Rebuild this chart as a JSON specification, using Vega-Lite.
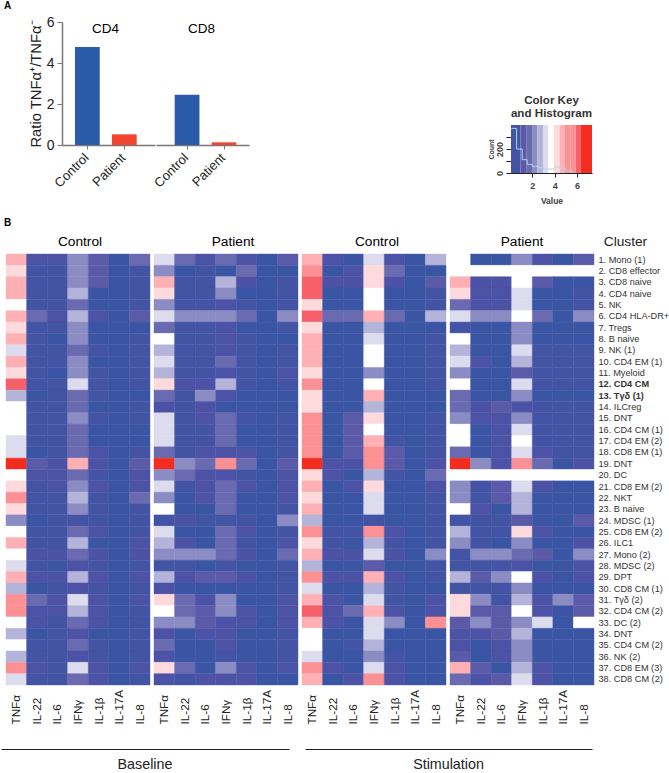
{"$schema":"https://vega.github.io/schema/vega-lite/v6.json","padding":{"left":1,"top":1,"right":0,"bottom":0},"config":{"font":"Liberation Sans","view":{"stroke":null},"title":{"font":"Liberation Sans","fontWeight":"normal"},"axis":{"labelFont":"Liberation Sans","titleFont":"Liberation Sans","titleFontWeight":"normal"}},
"datasets":{"bars":[{"cell":"CD4","group":"Control","ratio":4.78},{"cell":"CD4","group":"Patient","ratio":0.52},{"cell":"CD8","group":"Control","ratio":2.45},{"cell":"CD8","group":"Patient","ratio":0.13}],
"clusters":[{"row":1,"cluster":"1. Mono (1)"},{"row":2,"cluster":"2. CD8 effector"},{"row":3,"cluster":"3. CD8 naive"},{"row":4,"cluster":"4. CD4 naive"},{"row":5,"cluster":"5. NK"},{"row":6,"cluster":"6. CD4 HLA-DR+"},{"row":7,"cluster":"7. Tregs"},{"row":8,"cluster":"8. B naive"},{"row":9,"cluster":"9. NK (1)"},{"row":10,"cluster":"10. CD4 EM (1)"},{"row":11,"cluster":"11. Myeloid"},{"row":12,"cluster":"12. CD4 CM"},{"row":13,"cluster":"13. Tγδ (1)"},{"row":14,"cluster":"14. ILCreg"},{"row":15,"cluster":"15. DNT"},{"row":16,"cluster":"16. CD4 CM (1)"},{"row":17,"cluster":"17. CD4 EM (2)"},{"row":18,"cluster":"18. CD8 EM (1)"},{"row":19,"cluster":"19. DNT"},{"row":20,"cluster":"20. DC"},{"row":21,"cluster":"21. CD8 EM (2)"},{"row":22,"cluster":"22. NKT"},{"row":23,"cluster":"23. B naive"},{"row":24,"cluster":"24. MDSC (1)"},{"row":25,"cluster":"25. CD8 EM (2)"},{"row":26,"cluster":"26. ILC1"},{"row":27,"cluster":"27. Mono (2)"},{"row":28,"cluster":"28. MDSC (2)"},{"row":29,"cluster":"29. DPT"},{"row":30,"cluster":"30. CD8 CM (1)"},{"row":31,"cluster":"31. Tγδ (2)"},{"row":32,"cluster":"32. CD4 CM (2)"},{"row":33,"cluster":"33. DC (2)"},{"row":34,"cluster":"34. DNT"},{"row":35,"cluster":"35. CD4 CM (2)"},{"row":36,"cluster":"36. NK (2)"},{"row":37,"cluster":"37. CD8 EM (3)"},{"row":38,"cluster":"38. CD8 CM (2)"}],
"key":[{"start":0.1,"end":0.95,"value":0.5},{"start":0.95,"end":1.5,"value":1.1},{"start":1.5,"end":1.98,"value":1.4},{"start":1.98,"end":2.45,"value":1.9},{"start":2.45,"end":2.96,"value":2.4},{"start":2.96,"end":3.43,"value":2.9},{"start":3.43,"end":3.93,"value":3.65},{"start":3.93,"end":4.44,"value":4.2},{"start":4.44,"end":4.92,"value":4.7},{"start":4.92,"end":5.4,"value":5.2},{"start":5.4,"end":5.87,"value":5.2},{"start":5.87,"end":6.34,"value":5.9},{"start":6.34,"end":7.33,"value":6.9}],
"hist":[{"x":0.12,"count":372},{"x":0.6,"count":200},{"x":1.1,"count":111},{"x":1.54,"count":72},{"x":2.0,"count":55},{"x":2.55,"count":44},{"x":3.0,"count":33},{"x":3.5,"count":33},{"x":3.97,"count":50},{"x":4.5,"count":36},{"x":5.0,"count":17},{"x":5.5,"count":0}],
"baselineControl":[
{"row":1,"cytokine":"TNFα","value":4.7},{"row":1,"cytokine":"IL-22","value":0.8},{"row":1,"cytokine":"IL-6","value":0.8},{"row":1,"cytokine":"IFNγ","value":1.9},{"row":1,"cytokine":"IL-1β","value":1.1},{"row":1,"cytokine":"IL-17A","value":0.2},{"row":1,"cytokine":"IL-8","value":1.4},
{"row":2,"cytokine":"TNFα","value":4.2},{"row":2,"cytokine":"IL-22","value":0.5},{"row":2,"cytokine":"IL-6","value":0.5},{"row":2,"cytokine":"IFNγ","value":1.9},{"row":2,"cytokine":"IL-1β","value":1.1},{"row":2,"cytokine":"IL-17A","value":0.2},{"row":2,"cytokine":"IL-8","value":0.5},
{"row":3,"cytokine":"TNFα","value":4.7},{"row":3,"cytokine":"IL-22","value":0.5},{"row":3,"cytokine":"IL-6","value":0.5},{"row":3,"cytokine":"IFNγ","value":1.9},{"row":3,"cytokine":"IL-1β","value":1.1},{"row":3,"cytokine":"IL-17A","value":0.2},{"row":3,"cytokine":"IL-8","value":0.5},
{"row":4,"cytokine":"TNFα","value":4.7},{"row":4,"cytokine":"IL-22","value":0.5},{"row":4,"cytokine":"IL-6","value":0.5},{"row":4,"cytokine":"IFNγ","value":2.4},{"row":4,"cytokine":"IL-1β","value":0.2},{"row":4,"cytokine":"IL-17A","value":0.2},{"row":4,"cytokine":"IL-8","value":0.5},
{"row":5,"cytokine":"TNFα","value":3.65},{"row":5,"cytokine":"IL-22","value":0.5},{"row":5,"cytokine":"IL-6","value":0.5},{"row":5,"cytokine":"IFNγ","value":1.4},{"row":5,"cytokine":"IL-1β","value":0.2},{"row":5,"cytokine":"IL-17A","value":0.2},{"row":5,"cytokine":"IL-8","value":0.5},
{"row":6,"cytokine":"TNFα","value":4.7},{"row":6,"cytokine":"IL-22","value":1.4},{"row":6,"cytokine":"IL-6","value":0.8},{"row":6,"cytokine":"IFNγ","value":2.4},{"row":6,"cytokine":"IL-1β","value":0.8},{"row":6,"cytokine":"IL-17A","value":0.2},{"row":6,"cytokine":"IL-8","value":1.1},
{"row":7,"cytokine":"TNFα","value":4.2},{"row":7,"cytokine":"IL-22","value":0.5},{"row":7,"cytokine":"IL-6","value":0.5},{"row":7,"cytokine":"IFNγ","value":1.9},{"row":7,"cytokine":"IL-1β","value":0.2},{"row":7,"cytokine":"IL-17A","value":0.2},{"row":7,"cytokine":"IL-8","value":0.2},
{"row":8,"cytokine":"TNFα","value":4.7},{"row":8,"cytokine":"IL-22","value":0.5},{"row":8,"cytokine":"IL-6","value":0.2},{"row":8,"cytokine":"IFNγ","value":1.9},{"row":8,"cytokine":"IL-1β","value":0.2},{"row":8,"cytokine":"IL-17A","value":0.2},{"row":8,"cytokine":"IL-8","value":0.5},
{"row":9,"cytokine":"TNFα","value":2.9},{"row":9,"cytokine":"IL-22","value":0.5},{"row":9,"cytokine":"IL-6","value":0.5},{"row":9,"cytokine":"IFNγ","value":1.4},{"row":9,"cytokine":"IL-1β","value":0.5},{"row":9,"cytokine":"IL-17A","value":0.2},{"row":9,"cytokine":"IL-8","value":0.5},
{"row":10,"cytokine":"TNFα","value":4.7},{"row":10,"cytokine":"IL-22","value":0.5},{"row":10,"cytokine":"IL-6","value":0.5},{"row":10,"cytokine":"IFNγ","value":1.9},{"row":10,"cytokine":"IL-1β","value":0.2},{"row":10,"cytokine":"IL-17A","value":0.2},{"row":10,"cytokine":"IL-8","value":0.5},
{"row":11,"cytokine":"TNFα","value":4.2},{"row":11,"cytokine":"IL-22","value":0.5},{"row":11,"cytokine":"IL-6","value":0.2},{"row":11,"cytokine":"IFNγ","value":1.9},{"row":11,"cytokine":"IL-1β","value":0.5},{"row":11,"cytokine":"IL-17A","value":0.2},{"row":11,"cytokine":"IL-8","value":0.5},
{"row":12,"cytokine":"TNFα","value":5.9},{"row":12,"cytokine":"IL-22","value":0.5},{"row":12,"cytokine":"IL-6","value":0.5},{"row":12,"cytokine":"IFNγ","value":2.9},{"row":12,"cytokine":"IL-1β","value":0.5},{"row":12,"cytokine":"IL-17A","value":0.2},{"row":12,"cytokine":"IL-8","value":0.5},
{"row":13,"cytokine":"TNFα","value":2.4},{"row":13,"cytokine":"IL-22","value":0.2},{"row":13,"cytokine":"IL-6","value":0.5},{"row":13,"cytokine":"IFNγ","value":1.4},{"row":13,"cytokine":"IL-1β","value":0.5},{"row":13,"cytokine":"IL-17A","value":0.2},{"row":13,"cytokine":"IL-8","value":0.2},
{"row":14,"cytokine":"TNFα","value":3.65},{"row":14,"cytokine":"IL-22","value":0.5},{"row":14,"cytokine":"IL-6","value":0.5},{"row":14,"cytokine":"IFNγ","value":1.4},{"row":14,"cytokine":"IL-1β","value":0.2},{"row":14,"cytokine":"IL-17A","value":0.2},{"row":14,"cytokine":"IL-8","value":0.5},
{"row":15,"cytokine":"TNFα","value":3.65},{"row":15,"cytokine":"IL-22","value":0.5},{"row":15,"cytokine":"IL-6","value":0.5},{"row":15,"cytokine":"IFNγ","value":1.9},{"row":15,"cytokine":"IL-1β","value":0.5},{"row":15,"cytokine":"IL-17A","value":0.2},{"row":15,"cytokine":"IL-8","value":0.5},
{"row":16,"cytokine":"TNFα","value":3.65},{"row":16,"cytokine":"IL-22","value":0.5},{"row":16,"cytokine":"IL-6","value":0.5},{"row":16,"cytokine":"IFNγ","value":1.4},{"row":16,"cytokine":"IL-1β","value":0.2},{"row":16,"cytokine":"IL-17A","value":0.2},{"row":16,"cytokine":"IL-8","value":0.2},
{"row":17,"cytokine":"TNFα","value":2.9},{"row":17,"cytokine":"IL-22","value":0.5},{"row":17,"cytokine":"IL-6","value":0.5},{"row":17,"cytokine":"IFNγ","value":1.4},{"row":17,"cytokine":"IL-1β","value":0.2},{"row":17,"cytokine":"IL-17A","value":0.2},{"row":17,"cytokine":"IL-8","value":0.2},
{"row":18,"cytokine":"TNFα","value":2.9},{"row":18,"cytokine":"IL-22","value":0.2},{"row":18,"cytokine":"IL-6","value":0.5},{"row":18,"cytokine":"IFNγ","value":1.4},{"row":18,"cytokine":"IL-1β","value":0.8},{"row":18,"cytokine":"IL-17A","value":0.2},{"row":18,"cytokine":"IL-8","value":0.5},
{"row":19,"cytokine":"TNFα","value":6.9},{"row":19,"cytokine":"IL-22","value":1.1},{"row":19,"cytokine":"IL-6","value":0.8},{"row":19,"cytokine":"IFNγ","value":4.7},{"row":19,"cytokine":"IL-1β","value":0.8},{"row":19,"cytokine":"IL-17A","value":0.2},{"row":19,"cytokine":"IL-8","value":1.1},
{"row":20,"cytokine":"TNFα","value":3.65},{"row":20,"cytokine":"IL-22","value":0.8},{"row":20,"cytokine":"IL-6","value":0.8},{"row":20,"cytokine":"IFNγ","value":1.4},{"row":20,"cytokine":"IL-1β","value":0.5},{"row":20,"cytokine":"IL-17A","value":0.2},{"row":20,"cytokine":"IL-8","value":0.8},
{"row":21,"cytokine":"TNFα","value":4.2},{"row":21,"cytokine":"IL-22","value":0.5},{"row":21,"cytokine":"IL-6","value":0.8},{"row":21,"cytokine":"IFNγ","value":1.9},{"row":21,"cytokine":"IL-1β","value":0.8},{"row":21,"cytokine":"IL-17A","value":0.2},{"row":21,"cytokine":"IL-8","value":0.8},
{"row":22,"cytokine":"TNFα","value":5.2},{"row":22,"cytokine":"IL-22","value":0.5},{"row":22,"cytokine":"IL-6","value":0.5},{"row":22,"cytokine":"IFNγ","value":2.4},{"row":22,"cytokine":"IL-1β","value":0.5},{"row":22,"cytokine":"IL-17A","value":0.2},{"row":22,"cytokine":"IL-8","value":1.4},
{"row":23,"cytokine":"TNFα","value":4.2},{"row":23,"cytokine":"IL-22","value":0.5},{"row":23,"cytokine":"IL-6","value":0.5},{"row":23,"cytokine":"IFNγ","value":1.9},{"row":23,"cytokine":"IL-1β","value":0.5},{"row":23,"cytokine":"IL-17A","value":0.2},{"row":23,"cytokine":"IL-8","value":0.5},
{"row":24,"cytokine":"TNFα","value":1.9},{"row":24,"cytokine":"IL-22","value":0.2},{"row":24,"cytokine":"IL-6","value":0.5},{"row":24,"cytokine":"IFNγ","value":0.5},{"row":24,"cytokine":"IL-1β","value":0.5},{"row":24,"cytokine":"IL-17A","value":0.2},{"row":24,"cytokine":"IL-8","value":0.5},
{"row":25,"cytokine":"TNFα","value":3.65},{"row":25,"cytokine":"IL-22","value":0.5},{"row":25,"cytokine":"IL-6","value":0.5},{"row":25,"cytokine":"IFNγ","value":1.4},{"row":25,"cytokine":"IL-1β","value":0.8},{"row":25,"cytokine":"IL-17A","value":0.2},{"row":25,"cytokine":"IL-8","value":0.5},
{"row":26,"cytokine":"TNFα","value":4.7},{"row":26,"cytokine":"IL-22","value":0.5},{"row":26,"cytokine":"IL-6","value":0.5},{"row":26,"cytokine":"IFNγ","value":2.4},{"row":26,"cytokine":"IL-1β","value":0.2},{"row":26,"cytokine":"IL-17A","value":0.2},{"row":26,"cytokine":"IL-8","value":0.8},
{"row":27,"cytokine":"TNFα","value":3.65},{"row":27,"cytokine":"IL-22","value":0.8},{"row":27,"cytokine":"IL-6","value":0.8},{"row":27,"cytokine":"IFNγ","value":1.4},{"row":27,"cytokine":"IL-1β","value":0.8},{"row":27,"cytokine":"IL-17A","value":0.2},{"row":27,"cytokine":"IL-8","value":0.8},
{"row":28,"cytokine":"TNFα","value":2.9},{"row":28,"cytokine":"IL-22","value":0.5},{"row":28,"cytokine":"IL-6","value":0.2},{"row":28,"cytokine":"IFNγ","value":0.8},{"row":28,"cytokine":"IL-1β","value":0.5},{"row":28,"cytokine":"IL-17A","value":0.2},{"row":28,"cytokine":"IL-8","value":0.5},
{"row":29,"cytokine":"TNFα","value":4.7},{"row":29,"cytokine":"IL-22","value":0.8},{"row":29,"cytokine":"IL-6","value":0.8},{"row":29,"cytokine":"IFNγ","value":2.4},{"row":29,"cytokine":"IL-1β","value":0.8},{"row":29,"cytokine":"IL-17A","value":0.2},{"row":29,"cytokine":"IL-8","value":0.8},
{"row":30,"cytokine":"TNFα","value":2.4},{"row":30,"cytokine":"IL-22","value":0.2},{"row":30,"cytokine":"IL-6","value":0.5},{"row":30,"cytokine":"IFNγ","value":0.8},{"row":30,"cytokine":"IL-1β","value":0.5},{"row":30,"cytokine":"IL-17A","value":0.2},{"row":30,"cytokine":"IL-8","value":0.5},
{"row":31,"cytokine":"TNFα","value":5.2},{"row":31,"cytokine":"IL-22","value":1.4},{"row":31,"cytokine":"IL-6","value":0.8},{"row":31,"cytokine":"IFNγ","value":2.9},{"row":31,"cytokine":"IL-1β","value":0.8},{"row":31,"cytokine":"IL-17A","value":0.2},{"row":31,"cytokine":"IL-8","value":0.8},
{"row":32,"cytokine":"TNFα","value":5.2},{"row":32,"cytokine":"IL-22","value":0.8},{"row":32,"cytokine":"IL-6","value":0.8},{"row":32,"cytokine":"IFNγ","value":2.4},{"row":32,"cytokine":"IL-1β","value":0.8},{"row":32,"cytokine":"IL-17A","value":0.2},{"row":32,"cytokine":"IL-8","value":0.5},
{"row":33,"cytokine":"TNFα","value":3.65},{"row":33,"cytokine":"IL-22","value":0.8},{"row":33,"cytokine":"IL-6","value":0.5},{"row":33,"cytokine":"IFNγ","value":1.4},{"row":33,"cytokine":"IL-1β","value":0.8},{"row":33,"cytokine":"IL-17A","value":0.2},{"row":33,"cytokine":"IL-8","value":0.5},
{"row":34,"cytokine":"TNFα","value":2.4},{"row":34,"cytokine":"IL-22","value":0.2},{"row":34,"cytokine":"IL-6","value":0.5},{"row":34,"cytokine":"IFNγ","value":0.8},{"row":34,"cytokine":"IL-1β","value":0.2},{"row":34,"cytokine":"IL-17A","value":0.2},{"row":34,"cytokine":"IL-8","value":0.5},
{"row":35,"cytokine":"TNFα","value":3.65},{"row":35,"cytokine":"IL-22","value":0.5},{"row":35,"cytokine":"IL-6","value":0.5},{"row":35,"cytokine":"IFNγ","value":1.4},{"row":35,"cytokine":"IL-1β","value":0.5},{"row":35,"cytokine":"IL-17A","value":0.2},{"row":35,"cytokine":"IL-8","value":0.5},
{"row":36,"cytokine":"TNFα","value":2.4},{"row":36,"cytokine":"IL-22","value":0.5},{"row":36,"cytokine":"IL-6","value":0.5},{"row":36,"cytokine":"IFNγ","value":0.8},{"row":36,"cytokine":"IL-1β","value":0.5},{"row":36,"cytokine":"IL-17A","value":0.2},{"row":36,"cytokine":"IL-8","value":0.5},
{"row":37,"cytokine":"TNFα","value":5.2},{"row":37,"cytokine":"IL-22","value":0.8},{"row":37,"cytokine":"IL-6","value":0.5},{"row":37,"cytokine":"IFNγ","value":2.9},{"row":37,"cytokine":"IL-1β","value":0.8},{"row":37,"cytokine":"IL-17A","value":0.2},{"row":37,"cytokine":"IL-8","value":0.8},
{"row":38,"cytokine":"TNFα","value":2.9},{"row":38,"cytokine":"IL-22","value":0.5},{"row":38,"cytokine":"IL-6","value":0.5},{"row":38,"cytokine":"IFNγ","value":1.4},{"row":38,"cytokine":"IL-1β","value":0.8},{"row":38,"cytokine":"IL-17A","value":0.2},{"row":38,"cytokine":"IL-8","value":0.5}
],
"baselinePatient":[
{"row":1,"cytokine":"TNFα","value":2.9},{"row":1,"cytokine":"IL-22","value":1.4},{"row":1,"cytokine":"IL-6","value":0.8},{"row":1,"cytokine":"IFNγ","value":1.4},{"row":1,"cytokine":"IL-1β","value":0.8},{"row":1,"cytokine":"IL-17A","value":0.2},{"row":1,"cytokine":"IL-8","value":1.1},
{"row":2,"cytokine":"TNFα","value":1.9},{"row":2,"cytokine":"IL-22","value":0.2},{"row":2,"cytokine":"IL-6","value":0.5},{"row":2,"cytokine":"IFNγ","value":0.2},{"row":2,"cytokine":"IL-1β","value":1.4},{"row":2,"cytokine":"IL-17A","value":0.2},{"row":2,"cytokine":"IL-8","value":0.2},
{"row":3,"cytokine":"TNFα","value":4.7},{"row":3,"cytokine":"IL-22","value":0.5},{"row":3,"cytokine":"IL-6","value":0.5},{"row":3,"cytokine":"IFNγ","value":2.4},{"row":3,"cytokine":"IL-1β","value":0.8},{"row":3,"cytokine":"IL-17A","value":0.2},{"row":3,"cytokine":"IL-8","value":0.5},
{"row":4,"cytokine":"TNFα","value":4.2},{"row":4,"cytokine":"IL-22","value":0.5},{"row":4,"cytokine":"IL-6","value":0.5},{"row":4,"cytokine":"IFNγ","value":1.9},{"row":4,"cytokine":"IL-1β","value":0.2},{"row":4,"cytokine":"IL-17A","value":0.2},{"row":4,"cytokine":"IL-8","value":0.5},
{"row":5,"cytokine":"TNFα","value":1.9},{"row":5,"cytokine":"IL-22","value":0.5},{"row":5,"cytokine":"IL-6","value":0.5},{"row":5,"cytokine":"IFNγ","value":0.8},{"row":5,"cytokine":"IL-1β","value":0.5},{"row":5,"cytokine":"IL-17A","value":0.2},{"row":5,"cytokine":"IL-8","value":0.5},
{"row":6,"cytokine":"TNFα","value":2.9},{"row":6,"cytokine":"IL-22","value":1.9},{"row":6,"cytokine":"IL-6","value":1.9},{"row":6,"cytokine":"IFNγ","value":1.9},{"row":6,"cytokine":"IL-1β","value":1.4},{"row":6,"cytokine":"IL-17A","value":0.2},{"row":6,"cytokine":"IL-8","value":1.9},
{"row":7,"cytokine":"TNFα","value":1.4},{"row":7,"cytokine":"IL-22","value":0.5},{"row":7,"cytokine":"IL-6","value":0.5},{"row":7,"cytokine":"IFNγ","value":0.8},{"row":7,"cytokine":"IL-1β","value":0.2},{"row":7,"cytokine":"IL-17A","value":0.2},{"row":7,"cytokine":"IL-8","value":0.5},
{"row":8,"cytokine":"TNFα","value":3.65},{"row":8,"cytokine":"IL-22","value":0.5},{"row":8,"cytokine":"IL-6","value":0.5},{"row":8,"cytokine":"IFNγ","value":0.8},{"row":8,"cytokine":"IL-1β","value":0.5},{"row":8,"cytokine":"IL-17A","value":0.2},{"row":8,"cytokine":"IL-8","value":0.2},
{"row":9,"cytokine":"TNFα","value":2.4},{"row":9,"cytokine":"IL-22","value":0.5},{"row":9,"cytokine":"IL-6","value":0.5},{"row":9,"cytokine":"IFNγ","value":0.8},{"row":9,"cytokine":"IL-1β","value":0.5},{"row":9,"cytokine":"IL-17A","value":0.2},{"row":9,"cytokine":"IL-8","value":0.5},
{"row":10,"cytokine":"TNFα","value":2.9},{"row":10,"cytokine":"IL-22","value":0.5},{"row":10,"cytokine":"IL-6","value":0.5},{"row":10,"cytokine":"IFNγ","value":1.4},{"row":10,"cytokine":"IL-1β","value":0.5},{"row":10,"cytokine":"IL-17A","value":0.2},{"row":10,"cytokine":"IL-8","value":0.5},
{"row":11,"cytokine":"TNFα","value":2.4},{"row":11,"cytokine":"IL-22","value":0.5},{"row":11,"cytokine":"IL-6","value":0.5},{"row":11,"cytokine":"IFNγ","value":0.8},{"row":11,"cytokine":"IL-1β","value":0.5},{"row":11,"cytokine":"IL-17A","value":0.2},{"row":11,"cytokine":"IL-8","value":0.8},
{"row":12,"cytokine":"TNFα","value":4.2},{"row":12,"cytokine":"IL-22","value":0.8},{"row":12,"cytokine":"IL-6","value":0.8},{"row":12,"cytokine":"IFNγ","value":2.4},{"row":12,"cytokine":"IL-1β","value":0.5},{"row":12,"cytokine":"IL-17A","value":0.2},{"row":12,"cytokine":"IL-8","value":0.5},
{"row":13,"cytokine":"TNFα","value":1.4},{"row":13,"cytokine":"IL-22","value":0.5},{"row":13,"cytokine":"IL-6","value":1.9},{"row":13,"cytokine":"IFNγ","value":0.8},{"row":13,"cytokine":"IL-1β","value":0.2},{"row":13,"cytokine":"IL-17A","value":0.2},{"row":13,"cytokine":"IL-8","value":0.2},
{"row":14,"cytokine":"TNFα","value":0.8},{"row":14,"cytokine":"IL-22","value":0.5},{"row":14,"cytokine":"IL-6","value":0.8},{"row":14,"cytokine":"IFNγ","value":0.2},{"row":14,"cytokine":"IL-1β","value":0.2},{"row":14,"cytokine":"IL-17A","value":0.2},{"row":14,"cytokine":"IL-8","value":0.2},
{"row":15,"cytokine":"TNFα","value":2.9},{"row":15,"cytokine":"IL-22","value":0.5},{"row":15,"cytokine":"IL-6","value":0.8},{"row":15,"cytokine":"IFNγ","value":1.4},{"row":15,"cytokine":"IL-1β","value":0.5},{"row":15,"cytokine":"IL-17A","value":0.2},{"row":15,"cytokine":"IL-8","value":0.5},
{"row":16,"cytokine":"TNFα","value":2.9},{"row":16,"cytokine":"IL-22","value":0.5},{"row":16,"cytokine":"IL-6","value":0.5},{"row":16,"cytokine":"IFNγ","value":1.4},{"row":16,"cytokine":"IL-1β","value":0.2},{"row":16,"cytokine":"IL-17A","value":0.2},{"row":16,"cytokine":"IL-8","value":0.5},
{"row":17,"cytokine":"TNFα","value":2.9},{"row":17,"cytokine":"IL-22","value":0.5},{"row":17,"cytokine":"IL-6","value":0.5},{"row":17,"cytokine":"IFNγ","value":1.4},{"row":17,"cytokine":"IL-1β","value":0.2},{"row":17,"cytokine":"IL-17A","value":0.2},{"row":17,"cytokine":"IL-8","value":0.5},
{"row":18,"cytokine":"TNFα","value":1.4},{"row":18,"cytokine":"IL-22","value":0.5},{"row":18,"cytokine":"IL-6","value":0.8},{"row":18,"cytokine":"IFNγ","value":0.8},{"row":18,"cytokine":"IL-1β","value":0.8},{"row":18,"cytokine":"IL-17A","value":0.2},{"row":18,"cytokine":"IL-8","value":0.5},
{"row":19,"cytokine":"TNFα","value":6.9},{"row":19,"cytokine":"IL-22","value":1.9},{"row":19,"cytokine":"IL-6","value":1.4},{"row":19,"cytokine":"IFNγ","value":5.2},{"row":19,"cytokine":"IL-1β","value":1.4},{"row":19,"cytokine":"IL-17A","value":0.2},{"row":19,"cytokine":"IL-8","value":1.1},
{"row":20,"cytokine":"TNFα","value":1.9},{"row":20,"cytokine":"IL-22","value":1.4},{"row":20,"cytokine":"IL-6","value":0.8},{"row":20,"cytokine":"IFNγ","value":0.8},{"row":20,"cytokine":"IL-1β","value":0.5},{"row":20,"cytokine":"IL-17A","value":0.2},{"row":20,"cytokine":"IL-8","value":0.8},
{"row":21,"cytokine":"TNFα","value":2.9},{"row":21,"cytokine":"IL-22","value":0.5},{"row":21,"cytokine":"IL-6","value":0.8},{"row":21,"cytokine":"IFNγ","value":1.4},{"row":21,"cytokine":"IL-1β","value":0.8},{"row":21,"cytokine":"IL-17A","value":0.2},{"row":21,"cytokine":"IL-8","value":0.8},
{"row":22,"cytokine":"TNFα","value":1.9},{"row":22,"cytokine":"IL-22","value":0.2},{"row":22,"cytokine":"IL-6","value":0.8},{"row":22,"cytokine":"IFNγ","value":1.4},{"row":22,"cytokine":"IL-1β","value":0.2},{"row":22,"cytokine":"IL-17A","value":0.2},{"row":22,"cytokine":"IL-8","value":0.8},
{"row":23,"cytokine":"TNFα","value":3.65},{"row":23,"cytokine":"IL-22","value":0.2},{"row":23,"cytokine":"IL-6","value":0.2},{"row":23,"cytokine":"IFNγ","value":1.4},{"row":23,"cytokine":"IL-1β","value":0.2},{"row":23,"cytokine":"IL-17A","value":0.2},{"row":23,"cytokine":"IL-8","value":0.5},
{"row":24,"cytokine":"TNFα","value":0.5},{"row":24,"cytokine":"IL-22","value":0.8},{"row":24,"cytokine":"IL-6","value":0.5},{"row":24,"cytokine":"IFNγ","value":0.5},{"row":24,"cytokine":"IL-1β","value":0.5},{"row":24,"cytokine":"IL-17A","value":0.2},{"row":24,"cytokine":"IL-8","value":1.9},
{"row":25,"cytokine":"TNFα","value":2.9},{"row":25,"cytokine":"IL-22","value":0.2},{"row":25,"cytokine":"IL-6","value":0.2},{"row":25,"cytokine":"IFNγ","value":1.4},{"row":25,"cytokine":"IL-1β","value":0.8},{"row":25,"cytokine":"IL-17A","value":0.2},{"row":25,"cytokine":"IL-8","value":0.5},
{"row":26,"cytokine":"TNFα","value":2.4},{"row":26,"cytokine":"IL-22","value":0.8},{"row":26,"cytokine":"IL-6","value":0.2},{"row":26,"cytokine":"IFNγ","value":1.4},{"row":26,"cytokine":"IL-1β","value":0.5},{"row":26,"cytokine":"IL-17A","value":0.2},{"row":26,"cytokine":"IL-8","value":0.8},
{"row":27,"cytokine":"TNFα","value":1.9},{"row":27,"cytokine":"IL-22","value":1.9},{"row":27,"cytokine":"IL-6","value":1.9},{"row":27,"cytokine":"IFNγ","value":1.4},{"row":27,"cytokine":"IL-1β","value":0.8},{"row":27,"cytokine":"IL-17A","value":0.2},{"row":27,"cytokine":"IL-8","value":1.4},
{"row":28,"cytokine":"TNFα","value":0.5},{"row":28,"cytokine":"IL-22","value":0.5},{"row":28,"cytokine":"IL-6","value":0.2},{"row":28,"cytokine":"IFNγ","value":0.5},{"row":28,"cytokine":"IL-1β","value":0.2},{"row":28,"cytokine":"IL-17A","value":0.2},{"row":28,"cytokine":"IL-8","value":0.5},
{"row":29,"cytokine":"TNFα","value":2.4},{"row":29,"cytokine":"IL-22","value":0.8},{"row":29,"cytokine":"IL-6","value":1.1},{"row":29,"cytokine":"IFNγ","value":1.1},{"row":29,"cytokine":"IL-1β","value":0.8},{"row":29,"cytokine":"IL-17A","value":0.2},{"row":29,"cytokine":"IL-8","value":0.5},
{"row":30,"cytokine":"TNFα","value":0.8},{"row":30,"cytokine":"IL-22","value":0.2},{"row":30,"cytokine":"IL-6","value":0.2},{"row":30,"cytokine":"IFNγ","value":0.2},{"row":30,"cytokine":"IL-1β","value":0.2},{"row":30,"cytokine":"IL-17A","value":0.2},{"row":30,"cytokine":"IL-8","value":0.5},
{"row":31,"cytokine":"TNFα","value":4.2},{"row":31,"cytokine":"IL-22","value":1.4},{"row":31,"cytokine":"IL-6","value":0.8},{"row":31,"cytokine":"IFNγ","value":1.9},{"row":31,"cytokine":"IL-1β","value":0.2},{"row":31,"cytokine":"IL-17A","value":0.2},{"row":31,"cytokine":"IL-8","value":0.8},
{"row":32,"cytokine":"TNFα","value":3.65},{"row":32,"cytokine":"IL-22","value":1.4},{"row":32,"cytokine":"IL-6","value":1.1},{"row":32,"cytokine":"IFNγ","value":1.9},{"row":32,"cytokine":"IL-1β","value":0.8},{"row":32,"cytokine":"IL-17A","value":0.2},{"row":32,"cytokine":"IL-8","value":0.8},
{"row":33,"cytokine":"TNFα","value":1.9},{"row":33,"cytokine":"IL-22","value":1.9},{"row":33,"cytokine":"IL-6","value":1.1},{"row":33,"cytokine":"IFNγ","value":0.8},{"row":33,"cytokine":"IL-1β","value":0.8},{"row":33,"cytokine":"IL-17A","value":0.2},{"row":33,"cytokine":"IL-8","value":0.8},
{"row":34,"cytokine":"TNFα","value":0.8},{"row":34,"cytokine":"IL-22","value":0.2},{"row":34,"cytokine":"IL-6","value":0.8},{"row":34,"cytokine":"IFNγ","value":0.8},{"row":34,"cytokine":"IL-1β","value":0.2},{"row":34,"cytokine":"IL-17A","value":0.2},{"row":34,"cytokine":"IL-8","value":0.5},
{"row":35,"cytokine":"TNFα","value":1.4},{"row":35,"cytokine":"IL-22","value":0.2},{"row":35,"cytokine":"IL-6","value":0.2},{"row":35,"cytokine":"IFNγ","value":0.8},{"row":35,"cytokine":"IL-1β","value":0.2},{"row":35,"cytokine":"IL-17A","value":0.2},{"row":35,"cytokine":"IL-8","value":0.5},
{"row":36,"cytokine":"TNFα","value":0.8},{"row":36,"cytokine":"IL-22","value":0.2},{"row":36,"cytokine":"IL-6","value":0.2},{"row":36,"cytokine":"IFNγ","value":0.5},{"row":36,"cytokine":"IL-1β","value":0.2},{"row":36,"cytokine":"IL-17A","value":0.2},{"row":36,"cytokine":"IL-8","value":0.5},
{"row":37,"cytokine":"TNFα","value":4.2},{"row":37,"cytokine":"IL-22","value":1.4},{"row":37,"cytokine":"IL-6","value":0.2},{"row":37,"cytokine":"IFNγ","value":1.9},{"row":37,"cytokine":"IL-1β","value":0.8},{"row":37,"cytokine":"IL-17A","value":0.2},{"row":37,"cytokine":"IL-8","value":0.8},
{"row":38,"cytokine":"TNFα","value":0.8},{"row":38,"cytokine":"IL-22","value":0.5},{"row":38,"cytokine":"IL-6","value":0.8},{"row":38,"cytokine":"IFNγ","value":0.8},{"row":38,"cytokine":"IL-1β","value":0.8},{"row":38,"cytokine":"IL-17A","value":0.2},{"row":38,"cytokine":"IL-8","value":0.2}
],
"stimulationControl":[
{"row":1,"cytokine":"TNFα","value":4.7},{"row":1,"cytokine":"IL-22","value":0.8},{"row":1,"cytokine":"IL-6","value":0.2},{"row":1,"cytokine":"IFNγ","value":2.9},{"row":1,"cytokine":"IL-1β","value":0.8},{"row":1,"cytokine":"IL-17A","value":0.2},{"row":1,"cytokine":"IL-8","value":2.4},
{"row":2,"cytokine":"TNFα","value":5.2},{"row":2,"cytokine":"IL-22","value":0.2},{"row":2,"cytokine":"IL-6","value":0.8},{"row":2,"cytokine":"IFNγ","value":4.2},{"row":2,"cytokine":"IL-1β","value":1.4},{"row":2,"cytokine":"IL-17A","value":0.2},{"row":2,"cytokine":"IL-8","value":0.2},
{"row":3,"cytokine":"TNFα","value":5.9},{"row":3,"cytokine":"IL-22","value":0.8},{"row":3,"cytokine":"IL-6","value":0.8},{"row":3,"cytokine":"IFNγ","value":4.2},{"row":3,"cytokine":"IL-1β","value":0.8},{"row":3,"cytokine":"IL-17A","value":0.2},{"row":3,"cytokine":"IL-8","value":1.1},
{"row":4,"cytokine":"TNFα","value":5.9},{"row":4,"cytokine":"IL-22","value":0.2},{"row":4,"cytokine":"IL-6","value":0.2},{"row":4,"cytokine":"IFNγ","value":3.65},{"row":4,"cytokine":"IL-1β","value":0.2},{"row":4,"cytokine":"IL-17A","value":0.2},{"row":4,"cytokine":"IL-8","value":0.5},
{"row":5,"cytokine":"TNFα","value":4.2},{"row":5,"cytokine":"IL-22","value":0.2},{"row":5,"cytokine":"IL-6","value":0.2},{"row":5,"cytokine":"IFNγ","value":3.65},{"row":5,"cytokine":"IL-1β","value":0.2},{"row":5,"cytokine":"IL-17A","value":0.2},{"row":5,"cytokine":"IL-8","value":0.5},
{"row":6,"cytokine":"TNFα","value":5.9},{"row":6,"cytokine":"IL-22","value":1.4},{"row":6,"cytokine":"IL-6","value":1.4},{"row":6,"cytokine":"IFNγ","value":4.7},{"row":6,"cytokine":"IL-1β","value":1.4},{"row":6,"cytokine":"IL-17A","value":0.2},{"row":6,"cytokine":"IL-8","value":2.4},
{"row":7,"cytokine":"TNFα","value":4.2},{"row":7,"cytokine":"IL-22","value":0.2},{"row":7,"cytokine":"IL-6","value":0.2},{"row":7,"cytokine":"IFNγ","value":2.4},{"row":7,"cytokine":"IL-1β","value":0.2},{"row":7,"cytokine":"IL-17A","value":0.2},{"row":7,"cytokine":"IL-8","value":0.2},
{"row":8,"cytokine":"TNFα","value":4.7},{"row":8,"cytokine":"IL-22","value":0.2},{"row":8,"cytokine":"IL-6","value":0.2},{"row":8,"cytokine":"IFNγ","value":2.9},{"row":8,"cytokine":"IL-1β","value":0.2},{"row":8,"cytokine":"IL-17A","value":0.2},{"row":8,"cytokine":"IL-8","value":0.5},
{"row":9,"cytokine":"TNFα","value":4.7},{"row":9,"cytokine":"IL-22","value":0.2},{"row":9,"cytokine":"IL-6","value":0.2},{"row":9,"cytokine":"IFNγ","value":3.65},{"row":9,"cytokine":"IL-1β","value":0.2},{"row":9,"cytokine":"IL-17A","value":0.2},{"row":9,"cytokine":"IL-8","value":0.5},
{"row":10,"cytokine":"TNFα","value":4.7},{"row":10,"cytokine":"IL-22","value":0.2},{"row":10,"cytokine":"IL-6","value":0.2},{"row":10,"cytokine":"IFNγ","value":3.65},{"row":10,"cytokine":"IL-1β","value":0.2},{"row":10,"cytokine":"IL-17A","value":0.2},{"row":10,"cytokine":"IL-8","value":0.5},
{"row":11,"cytokine":"TNFα","value":4.2},{"row":11,"cytokine":"IL-22","value":0.2},{"row":11,"cytokine":"IL-6","value":0.2},{"row":11,"cytokine":"IFNγ","value":1.9},{"row":11,"cytokine":"IL-1β","value":0.2},{"row":11,"cytokine":"IL-17A","value":0.2},{"row":11,"cytokine":"IL-8","value":0.5},
{"row":12,"cytokine":"TNFα","value":5.2},{"row":12,"cytokine":"IL-22","value":0.2},{"row":12,"cytokine":"IL-6","value":0.2},{"row":12,"cytokine":"IFNγ","value":3.65},{"row":12,"cytokine":"IL-1β","value":0.2},{"row":12,"cytokine":"IL-17A","value":0.2},{"row":12,"cytokine":"IL-8","value":0.5},
{"row":13,"cytokine":"TNFα","value":4.2},{"row":13,"cytokine":"IL-22","value":0.2},{"row":13,"cytokine":"IL-6","value":0.2},{"row":13,"cytokine":"IFNγ","value":4.7},{"row":13,"cytokine":"IL-1β","value":0.2},{"row":13,"cytokine":"IL-17A","value":0.2},{"row":13,"cytokine":"IL-8","value":0.2},
{"row":14,"cytokine":"TNFα","value":4.2},{"row":14,"cytokine":"IL-22","value":0.2},{"row":14,"cytokine":"IL-6","value":0.2},{"row":14,"cytokine":"IFNγ","value":2.4},{"row":14,"cytokine":"IL-1β","value":0.2},{"row":14,"cytokine":"IL-17A","value":0.2},{"row":14,"cytokine":"IL-8","value":0.2},
{"row":15,"cytokine":"TNFα","value":5.2},{"row":15,"cytokine":"IL-22","value":0.2},{"row":15,"cytokine":"IL-6","value":1.1},{"row":15,"cytokine":"IFNγ","value":4.2},{"row":15,"cytokine":"IL-1β","value":0.2},{"row":15,"cytokine":"IL-17A","value":0.2},{"row":15,"cytokine":"IL-8","value":0.5},
{"row":16,"cytokine":"TNFα","value":5.2},{"row":16,"cytokine":"IL-22","value":0.2},{"row":16,"cytokine":"IL-6","value":1.1},{"row":16,"cytokine":"IFNγ","value":3.65},{"row":16,"cytokine":"IL-1β","value":0.2},{"row":16,"cytokine":"IL-17A","value":0.2},{"row":16,"cytokine":"IL-8","value":0.5},
{"row":17,"cytokine":"TNFα","value":5.2},{"row":17,"cytokine":"IL-22","value":0.2},{"row":17,"cytokine":"IL-6","value":1.1},{"row":17,"cytokine":"IFNγ","value":4.7},{"row":17,"cytokine":"IL-1β","value":0.5},{"row":17,"cytokine":"IL-17A","value":0.2},{"row":17,"cytokine":"IL-8","value":0.5},
{"row":18,"cytokine":"TNFα","value":5.2},{"row":18,"cytokine":"IL-22","value":0.2},{"row":18,"cytokine":"IL-6","value":1.1},{"row":18,"cytokine":"IFNγ","value":5.2},{"row":18,"cytokine":"IL-1β","value":1.1},{"row":18,"cytokine":"IL-17A","value":0.2},{"row":18,"cytokine":"IL-8","value":0.5},
{"row":19,"cytokine":"TNFα","value":6.9},{"row":19,"cytokine":"IL-22","value":0.8},{"row":19,"cytokine":"IL-6","value":0.8},{"row":19,"cytokine":"IFNγ","value":5.2},{"row":19,"cytokine":"IL-1β","value":1.1},{"row":19,"cytokine":"IL-17A","value":0.2},{"row":19,"cytokine":"IL-8","value":0.8},
{"row":20,"cytokine":"TNFα","value":4.2},{"row":20,"cytokine":"IL-22","value":0.8},{"row":20,"cytokine":"IL-6","value":0.2},{"row":20,"cytokine":"IFNγ","value":2.4},{"row":20,"cytokine":"IL-1β","value":0.5},{"row":20,"cytokine":"IL-17A","value":0.2},{"row":20,"cytokine":"IL-8","value":1.4},
{"row":21,"cytokine":"TNFα","value":4.7},{"row":21,"cytokine":"IL-22","value":0.2},{"row":21,"cytokine":"IL-6","value":0.8},{"row":21,"cytokine":"IFNγ","value":4.2},{"row":21,"cytokine":"IL-1β","value":0.2},{"row":21,"cytokine":"IL-17A","value":0.2},{"row":21,"cytokine":"IL-8","value":0.8},
{"row":22,"cytokine":"TNFα","value":4.2},{"row":22,"cytokine":"IL-22","value":0.2},{"row":22,"cytokine":"IL-6","value":0.2},{"row":22,"cytokine":"IFNγ","value":2.9},{"row":22,"cytokine":"IL-1β","value":0.2},{"row":22,"cytokine":"IL-17A","value":0.2},{"row":22,"cytokine":"IL-8","value":0.5},
{"row":23,"cytokine":"TNFα","value":4.7},{"row":23,"cytokine":"IL-22","value":0.2},{"row":23,"cytokine":"IL-6","value":0.2},{"row":23,"cytokine":"IFNγ","value":2.9},{"row":23,"cytokine":"IL-1β","value":0.2},{"row":23,"cytokine":"IL-17A","value":0.2},{"row":23,"cytokine":"IL-8","value":0.5},
{"row":24,"cytokine":"TNFα","value":2.4},{"row":24,"cytokine":"IL-22","value":0.2},{"row":24,"cytokine":"IL-6","value":0.2},{"row":24,"cytokine":"IFNγ","value":0.5},{"row":24,"cytokine":"IL-1β","value":0.2},{"row":24,"cytokine":"IL-17A","value":0.2},{"row":24,"cytokine":"IL-8","value":0.5},
{"row":25,"cytokine":"TNFα","value":5.2},{"row":25,"cytokine":"IL-22","value":0.5},{"row":25,"cytokine":"IL-6","value":0.5},{"row":25,"cytokine":"IFNγ","value":5.2},{"row":25,"cytokine":"IL-1β","value":0.8},{"row":25,"cytokine":"IL-17A","value":0.2},{"row":25,"cytokine":"IL-8","value":0.5},
{"row":26,"cytokine":"TNFα","value":4.2},{"row":26,"cytokine":"IL-22","value":0.5},{"row":26,"cytokine":"IL-6","value":0.2},{"row":26,"cytokine":"IFNγ","value":2.4},{"row":26,"cytokine":"IL-1β","value":0.5},{"row":26,"cytokine":"IL-17A","value":0.2},{"row":26,"cytokine":"IL-8","value":0.5},
{"row":27,"cytokine":"TNFα","value":4.7},{"row":27,"cytokine":"IL-22","value":0.8},{"row":27,"cytokine":"IL-6","value":0.8},{"row":27,"cytokine":"IFNγ","value":2.9},{"row":27,"cytokine":"IL-1β","value":0.8},{"row":27,"cytokine":"IL-17A","value":0.2},{"row":27,"cytokine":"IL-8","value":1.9},
{"row":28,"cytokine":"TNFα","value":2.4},{"row":28,"cytokine":"IL-22","value":0.2},{"row":28,"cytokine":"IL-6","value":0.2},{"row":28,"cytokine":"IFNγ","value":1.1},{"row":28,"cytokine":"IL-1β","value":0.2},{"row":28,"cytokine":"IL-17A","value":0.2},{"row":28,"cytokine":"IL-8","value":0.5},
{"row":29,"cytokine":"TNFα","value":5.2},{"row":29,"cytokine":"IL-22","value":0.8},{"row":29,"cytokine":"IL-6","value":0.8},{"row":29,"cytokine":"IFNγ","value":4.7},{"row":29,"cytokine":"IL-1β","value":0.8},{"row":29,"cytokine":"IL-17A","value":0.2},{"row":29,"cytokine":"IL-8","value":0.5},
{"row":30,"cytokine":"TNFα","value":2.9},{"row":30,"cytokine":"IL-22","value":0.2},{"row":30,"cytokine":"IL-6","value":0.2},{"row":30,"cytokine":"IFNγ","value":2.4},{"row":30,"cytokine":"IL-1β","value":0.5},{"row":30,"cytokine":"IL-17A","value":0.2},{"row":30,"cytokine":"IL-8","value":0.2},
{"row":31,"cytokine":"TNFα","value":4.7},{"row":31,"cytokine":"IL-22","value":0.8},{"row":31,"cytokine":"IL-6","value":0.2},{"row":31,"cytokine":"IFNγ","value":2.9},{"row":31,"cytokine":"IL-1β","value":0.5},{"row":31,"cytokine":"IL-17A","value":0.2},{"row":31,"cytokine":"IL-8","value":0.8},
{"row":32,"cytokine":"TNFα","value":5.9},{"row":32,"cytokine":"IL-22","value":0.8},{"row":32,"cytokine":"IL-6","value":1.4},{"row":32,"cytokine":"IFNγ","value":4.7},{"row":32,"cytokine":"IL-1β","value":0.8},{"row":32,"cytokine":"IL-17A","value":0.2},{"row":32,"cytokine":"IL-8","value":0.8},
{"row":33,"cytokine":"TNFα","value":4.7},{"row":33,"cytokine":"IL-22","value":0.8},{"row":33,"cytokine":"IL-6","value":0.2},{"row":33,"cytokine":"IFNγ","value":2.9},{"row":33,"cytokine":"IL-1β","value":1.9},{"row":33,"cytokine":"IL-17A","value":0.2},{"row":33,"cytokine":"IL-8","value":5.2},
{"row":34,"cytokine":"TNFα","value":3.65},{"row":34,"cytokine":"IL-22","value":0.2},{"row":34,"cytokine":"IL-6","value":0.2},{"row":34,"cytokine":"IFNγ","value":2.9},{"row":34,"cytokine":"IL-1β","value":0.2},{"row":34,"cytokine":"IL-17A","value":0.2},{"row":34,"cytokine":"IL-8","value":0.2},
{"row":35,"cytokine":"TNFα","value":3.65},{"row":35,"cytokine":"IL-22","value":0.2},{"row":35,"cytokine":"IL-6","value":0.5},{"row":35,"cytokine":"IFNγ","value":2.4},{"row":35,"cytokine":"IL-1β","value":0.2},{"row":35,"cytokine":"IL-17A","value":0.2},{"row":35,"cytokine":"IL-8","value":0.2},
{"row":36,"cytokine":"TNFα","value":2.9},{"row":36,"cytokine":"IL-22","value":0.2},{"row":36,"cytokine":"IL-6","value":0.2},{"row":36,"cytokine":"IFNγ","value":1.9},{"row":36,"cytokine":"IL-1β","value":0.5},{"row":36,"cytokine":"IL-17A","value":0.2},{"row":36,"cytokine":"IL-8","value":0.2},
{"row":37,"cytokine":"TNFα","value":5.2},{"row":37,"cytokine":"IL-22","value":0.8},{"row":37,"cytokine":"IL-6","value":0.2},{"row":37,"cytokine":"IFNγ","value":2.9},{"row":37,"cytokine":"IL-1β","value":0.8},{"row":37,"cytokine":"IL-17A","value":0.2},{"row":37,"cytokine":"IL-8","value":0.2},
{"row":38,"cytokine":"TNFα","value":4.7},{"row":38,"cytokine":"IL-22","value":0.2},{"row":38,"cytokine":"IL-6","value":0.8},{"row":38,"cytokine":"IFNγ","value":5.2},{"row":38,"cytokine":"IL-1β","value":0.8},{"row":38,"cytokine":"IL-17A","value":0.2},{"row":38,"cytokine":"IL-8","value":0.2}
],
"stimulationPatient":[
{"row":1,"cytokine":"TNFα","value":3.65},{"row":1,"cytokine":"IL-22","value":0.2},{"row":1,"cytokine":"IL-6","value":0.2},{"row":1,"cytokine":"IFNγ","value":1.9},{"row":1,"cytokine":"IL-1β","value":0.8},{"row":1,"cytokine":"IL-17A","value":0.2},{"row":1,"cytokine":"IL-8","value":1.1},
{"row":2,"cytokine":"TNFα","value":3.65},{"row":2,"cytokine":"IL-22","value":3.65},{"row":2,"cytokine":"IL-6","value":3.65},{"row":2,"cytokine":"IFNγ","value":3.65},{"row":2,"cytokine":"IL-1β","value":3.65},{"row":2,"cytokine":"IL-17A","value":3.65},{"row":2,"cytokine":"IL-8","value":3.65},
{"row":3,"cytokine":"TNFα","value":4.7},{"row":3,"cytokine":"IL-22","value":0.8},{"row":3,"cytokine":"IL-6","value":0.8},{"row":3,"cytokine":"IFNγ","value":3.65},{"row":3,"cytokine":"IL-1β","value":1.1},{"row":3,"cytokine":"IL-17A","value":0.2},{"row":3,"cytokine":"IL-8","value":0.2},
{"row":4,"cytokine":"TNFα","value":4.2},{"row":4,"cytokine":"IL-22","value":0.8},{"row":4,"cytokine":"IL-6","value":0.8},{"row":4,"cytokine":"IFNγ","value":2.9},{"row":4,"cytokine":"IL-1β","value":0.2},{"row":4,"cytokine":"IL-17A","value":0.2},{"row":4,"cytokine":"IL-8","value":0.5},
{"row":5,"cytokine":"TNFα","value":1.4},{"row":5,"cytokine":"IL-22","value":0.8},{"row":5,"cytokine":"IL-6","value":0.8},{"row":5,"cytokine":"IFNγ","value":2.9},{"row":5,"cytokine":"IL-1β","value":0.2},{"row":5,"cytokine":"IL-17A","value":0.2},{"row":5,"cytokine":"IL-8","value":0.5},
{"row":6,"cytokine":"TNFα","value":2.9},{"row":6,"cytokine":"IL-22","value":1.9},{"row":6,"cytokine":"IL-6","value":1.9},{"row":6,"cytokine":"IFNγ","value":3.65},{"row":6,"cytokine":"IL-1β","value":1.4},{"row":6,"cytokine":"IL-17A","value":0.2},{"row":6,"cytokine":"IL-8","value":1.9},
{"row":7,"cytokine":"TNFα","value":0.5},{"row":7,"cytokine":"IL-22","value":0.2},{"row":7,"cytokine":"IL-6","value":0.2},{"row":7,"cytokine":"IFNγ","value":1.9},{"row":7,"cytokine":"IL-1β","value":0.2},{"row":7,"cytokine":"IL-17A","value":0.2},{"row":7,"cytokine":"IL-8","value":0.2},
{"row":8,"cytokine":"TNFα","value":3.65},{"row":8,"cytokine":"IL-22","value":0.2},{"row":8,"cytokine":"IL-6","value":0.2},{"row":8,"cytokine":"IFNγ","value":1.9},{"row":8,"cytokine":"IL-1β","value":0.2},{"row":8,"cytokine":"IL-17A","value":0.2},{"row":8,"cytokine":"IL-8","value":0.2},
{"row":9,"cytokine":"TNFα","value":2.4},{"row":9,"cytokine":"IL-22","value":0.2},{"row":9,"cytokine":"IL-6","value":0.2},{"row":9,"cytokine":"IFNγ","value":2.9},{"row":9,"cytokine":"IL-1β","value":0.5},{"row":9,"cytokine":"IL-17A","value":0.5},{"row":9,"cytokine":"IL-8","value":0.5},
{"row":10,"cytokine":"TNFα","value":2.9},{"row":10,"cytokine":"IL-22","value":0.8},{"row":10,"cytokine":"IL-6","value":0.2},{"row":10,"cytokine":"IFNγ","value":2.4},{"row":10,"cytokine":"IL-1β","value":0.5},{"row":10,"cytokine":"IL-17A","value":0.5},{"row":10,"cytokine":"IL-8","value":0.5},
{"row":11,"cytokine":"TNFα","value":1.9},{"row":11,"cytokine":"IL-22","value":0.2},{"row":11,"cytokine":"IL-6","value":0.2},{"row":11,"cytokine":"IFNγ","value":1.1},{"row":11,"cytokine":"IL-1β","value":0.5},{"row":11,"cytokine":"IL-17A","value":0.5},{"row":11,"cytokine":"IL-8","value":0.5},
{"row":12,"cytokine":"TNFα","value":3.65},{"row":12,"cytokine":"IL-22","value":0.2},{"row":12,"cytokine":"IL-6","value":0.2},{"row":12,"cytokine":"IFNγ","value":2.9},{"row":12,"cytokine":"IL-1β","value":0.5},{"row":12,"cytokine":"IL-17A","value":0.5},{"row":12,"cytokine":"IL-8","value":0.5},
{"row":13,"cytokine":"TNFα","value":1.4},{"row":13,"cytokine":"IL-22","value":0.2},{"row":13,"cytokine":"IL-6","value":0.2},{"row":13,"cytokine":"IFNγ","value":1.9},{"row":13,"cytokine":"IL-1β","value":0.2},{"row":13,"cytokine":"IL-17A","value":0.2},{"row":13,"cytokine":"IL-8","value":0.2},
{"row":14,"cytokine":"TNFα","value":1.4},{"row":14,"cytokine":"IL-22","value":0.8},{"row":14,"cytokine":"IL-6","value":1.1},{"row":14,"cytokine":"IFNγ","value":0.8},{"row":14,"cytokine":"IL-1β","value":0.5},{"row":14,"cytokine":"IL-17A","value":0.5},{"row":14,"cytokine":"IL-8","value":0.5},
{"row":15,"cytokine":"TNFα","value":1.9},{"row":15,"cytokine":"IL-22","value":0.8},{"row":15,"cytokine":"IL-6","value":0.8},{"row":15,"cytokine":"IFNγ","value":1.9},{"row":15,"cytokine":"IL-1β","value":0.5},{"row":15,"cytokine":"IL-17A","value":0.5},{"row":15,"cytokine":"IL-8","value":0.5},
{"row":16,"cytokine":"TNFα","value":3.65},{"row":16,"cytokine":"IL-22","value":0.2},{"row":16,"cytokine":"IL-6","value":0.8},{"row":16,"cytokine":"IFNγ","value":2.9},{"row":16,"cytokine":"IL-1β","value":0.5},{"row":16,"cytokine":"IL-17A","value":0.5},{"row":16,"cytokine":"IL-8","value":0.5},
{"row":17,"cytokine":"TNFα","value":3.65},{"row":17,"cytokine":"IL-22","value":0.2},{"row":17,"cytokine":"IL-6","value":0.8},{"row":17,"cytokine":"IFNγ","value":3.65},{"row":17,"cytokine":"IL-1β","value":0.5},{"row":17,"cytokine":"IL-17A","value":0.5},{"row":17,"cytokine":"IL-8","value":0.5},
{"row":18,"cytokine":"TNFα","value":1.4},{"row":18,"cytokine":"IL-22","value":0.2},{"row":18,"cytokine":"IL-6","value":0.8},{"row":18,"cytokine":"IFNγ","value":2.9},{"row":18,"cytokine":"IL-1β","value":0.8},{"row":18,"cytokine":"IL-17A","value":0.5},{"row":18,"cytokine":"IL-8","value":0.5},
{"row":19,"cytokine":"TNFα","value":6.9},{"row":19,"cytokine":"IL-22","value":1.9},{"row":19,"cytokine":"IL-6","value":0.8},{"row":19,"cytokine":"IFNγ","value":5.2},{"row":19,"cytokine":"IL-1β","value":1.4},{"row":19,"cytokine":"IL-17A","value":0.2},{"row":19,"cytokine":"IL-8","value":0.8},
{"row":20,"cytokine":"TNFα","value":3.65},{"row":20,"cytokine":"IL-22","value":3.65},{"row":20,"cytokine":"IL-6","value":3.65},{"row":20,"cytokine":"IFNγ","value":3.65},{"row":20,"cytokine":"IL-1β","value":3.65},{"row":20,"cytokine":"IL-17A","value":3.65},{"row":20,"cytokine":"IL-8","value":3.65},
{"row":21,"cytokine":"TNFα","value":1.9},{"row":21,"cytokine":"IL-22","value":0.5},{"row":21,"cytokine":"IL-6","value":1.1},{"row":21,"cytokine":"IFNγ","value":2.9},{"row":21,"cytokine":"IL-1β","value":0.8},{"row":21,"cytokine":"IL-17A","value":0.2},{"row":21,"cytokine":"IL-8","value":0.2},
{"row":22,"cytokine":"TNFα","value":1.9},{"row":22,"cytokine":"IL-22","value":0.5},{"row":22,"cytokine":"IL-6","value":1.1},{"row":22,"cytokine":"IFNγ","value":2.4},{"row":22,"cytokine":"IL-1β","value":0.2},{"row":22,"cytokine":"IL-17A","value":0.2},{"row":22,"cytokine":"IL-8","value":0.2},
{"row":23,"cytokine":"TNFα","value":3.65},{"row":23,"cytokine":"IL-22","value":0.8},{"row":23,"cytokine":"IL-6","value":0.2},{"row":23,"cytokine":"IFNγ","value":2.4},{"row":23,"cytokine":"IL-1β","value":0.2},{"row":23,"cytokine":"IL-17A","value":0.2},{"row":23,"cytokine":"IL-8","value":0.2},
{"row":24,"cytokine":"TNFα","value":0.5},{"row":24,"cytokine":"IL-22","value":0.5},{"row":24,"cytokine":"IL-6","value":0.5},{"row":24,"cytokine":"IFNγ","value":1.1},{"row":24,"cytokine":"IL-1β","value":0.2},{"row":24,"cytokine":"IL-17A","value":0.2},{"row":24,"cytokine":"IL-8","value":1.1},
{"row":25,"cytokine":"TNFα","value":2.4},{"row":25,"cytokine":"IL-22","value":0.5},{"row":25,"cytokine":"IL-6","value":0.5},{"row":25,"cytokine":"IFNγ","value":4.2},{"row":25,"cytokine":"IL-1β","value":0.8},{"row":25,"cytokine":"IL-17A","value":0.2},{"row":25,"cytokine":"IL-8","value":0.2},
{"row":26,"cytokine":"TNFα","value":1.9},{"row":26,"cytokine":"IL-22","value":0.5},{"row":26,"cytokine":"IL-6","value":0.2},{"row":26,"cytokine":"IFNγ","value":1.9},{"row":26,"cytokine":"IL-1β","value":0.2},{"row":26,"cytokine":"IL-17A","value":0.2},{"row":26,"cytokine":"IL-8","value":0.8},
{"row":27,"cytokine":"TNFα","value":0.5},{"row":27,"cytokine":"IL-22","value":1.9},{"row":27,"cytokine":"IL-6","value":1.9},{"row":27,"cytokine":"IFNγ","value":1.4},{"row":27,"cytokine":"IL-1β","value":1.1},{"row":27,"cytokine":"IL-17A","value":0.2},{"row":27,"cytokine":"IL-8","value":1.9},
{"row":28,"cytokine":"TNFα","value":0.5},{"row":28,"cytokine":"IL-22","value":0.5},{"row":28,"cytokine":"IL-6","value":0.5},{"row":28,"cytokine":"IFNγ","value":0.8},{"row":28,"cytokine":"IL-1β","value":0.2},{"row":28,"cytokine":"IL-17A","value":0.2},{"row":28,"cytokine":"IL-8","value":0.8},
{"row":29,"cytokine":"TNFα","value":2.4},{"row":29,"cytokine":"IL-22","value":1.1},{"row":29,"cytokine":"IL-6","value":1.9},{"row":29,"cytokine":"IFNγ","value":3.65},{"row":29,"cytokine":"IL-1β","value":0.8},{"row":29,"cytokine":"IL-17A","value":0.2},{"row":29,"cytokine":"IL-8","value":0.8},
{"row":30,"cytokine":"TNFα","value":0.5},{"row":30,"cytokine":"IL-22","value":0.5},{"row":30,"cytokine":"IL-6","value":0.5},{"row":30,"cytokine":"IFNγ","value":1.9},{"row":30,"cytokine":"IL-1β","value":0.2},{"row":30,"cytokine":"IL-17A","value":0.2},{"row":30,"cytokine":"IL-8","value":0.2},
{"row":31,"cytokine":"TNFα","value":4.2},{"row":31,"cytokine":"IL-22","value":1.9},{"row":31,"cytokine":"IL-6","value":0.5},{"row":31,"cytokine":"IFNγ","value":2.4},{"row":31,"cytokine":"IL-1β","value":0.8},{"row":31,"cytokine":"IL-17A","value":1.9},{"row":31,"cytokine":"IL-8","value":1.1},
{"row":32,"cytokine":"TNFα","value":4.2},{"row":32,"cytokine":"IL-22","value":1.1},{"row":32,"cytokine":"IL-6","value":1.1},{"row":32,"cytokine":"IFNγ","value":3.65},{"row":32,"cytokine":"IL-1β","value":0.8},{"row":32,"cytokine":"IL-17A","value":0.2},{"row":32,"cytokine":"IL-8","value":1.1},
{"row":33,"cytokine":"TNFα","value":1.1},{"row":33,"cytokine":"IL-22","value":1.9},{"row":33,"cytokine":"IL-6","value":1.1},{"row":33,"cytokine":"IFNγ","value":1.9},{"row":33,"cytokine":"IL-1β","value":2.9},{"row":33,"cytokine":"IL-17A","value":0.2},{"row":33,"cytokine":"IL-8","value":3.65},
{"row":34,"cytokine":"TNFα","value":0.8},{"row":34,"cytokine":"IL-22","value":0.8},{"row":34,"cytokine":"IL-6","value":1.1},{"row":34,"cytokine":"IFNγ","value":2.4},{"row":34,"cytokine":"IL-1β","value":0.2},{"row":34,"cytokine":"IL-17A","value":0.2},{"row":34,"cytokine":"IL-8","value":0.2},
{"row":35,"cytokine":"TNFα","value":0.8},{"row":35,"cytokine":"IL-22","value":0.2},{"row":35,"cytokine":"IL-6","value":0.8},{"row":35,"cytokine":"IFNγ","value":1.9},{"row":35,"cytokine":"IL-1β","value":0.2},{"row":35,"cytokine":"IL-17A","value":0.2},{"row":35,"cytokine":"IL-8","value":0.2},
{"row":36,"cytokine":"TNFα","value":1.1},{"row":36,"cytokine":"IL-22","value":0.2},{"row":36,"cytokine":"IL-6","value":0.8},{"row":36,"cytokine":"IFNγ","value":1.9},{"row":36,"cytokine":"IL-1β","value":0.2},{"row":36,"cytokine":"IL-17A","value":0.2},{"row":36,"cytokine":"IL-8","value":0.2},
{"row":37,"cytokine":"TNFα","value":4.7},{"row":37,"cytokine":"IL-22","value":1.1},{"row":37,"cytokine":"IL-6","value":0.2},{"row":37,"cytokine":"IFNγ","value":2.4},{"row":37,"cytokine":"IL-1β","value":0.8},{"row":37,"cytokine":"IL-17A","value":0.2},{"row":37,"cytokine":"IL-8","value":0.2},
{"row":38,"cytokine":"TNFα","value":1.4},{"row":38,"cytokine":"IL-22","value":0.8},{"row":38,"cytokine":"IL-6","value":1.1},{"row":38,"cytokine":"IFNγ","value":2.9},{"row":38,"cytokine":"IL-1β","value":0.8},{"row":38,"cytokine":"IL-17A","value":0.2},{"row":38,"cytokine":"IL-8","value":0.2}
]},
"spacing":25,"vconcat":[
{"spacing":13,"vconcat":[
{"title":{"text":"A","anchor":"start","fontSize":10,"fontWeight":"bold","offset":4,"frame":"group","dx":3},"spacing":238,"hconcat":[
 {"spacing":0,"hconcat":[
 {"width":27,"height":1,"data":{"values":[]},"mark":"rect","encoding":{}},
 {"spacing":-4,"hconcat":[
  {"width":93,"height":123,"data":{"name":"bars"},"transform":[{"filter":"datum.cell=='CD4'"}],"title":{"text":"CD4","offset":-20,"fontSize":13.5,"dx":-3},"mark":{"type":"bar"},"encoding":{"x":{"field":"group","type":"nominal","title":null,"scale":{"paddingInner":0.33,"paddingOuter":0.4235,"align":0.415},"axis":{"labelAngle":-45,"labelAlign":"right","labelFontSize":13,"labelColor":"#222","domainColor":"#777","domainWidth":1.5,"tickColor":"#777","tickSize":4,"labelPadding":2,"labelOffset":-5}},"y":{"field":"ratio","type":"quantitative","scale":{"domain":[0,6]},"title":"Ratio TNFα⁺/TNFα⁻","axis":{"values":[0,2,4,6],"grid":false,"labelFontSize":14,"labelColor":"#222","domainColor":"#777","domainWidth":1.5,"tickColor":"#777","tickSize":5,"titleFontSize":14.8,"titleColor":"#222","labelPadding":3,"titlePadding":3}},"color":{"field":"group","type":"nominal","legend":null,"scale":{"domain":["Control","Patient"],"range":["#2a5ba8","#f1452d"]}}}},
  {"width":93,"height":123,"data":{"name":"bars"},"transform":[{"filter":"datum.cell=='CD8'"}],"title":{"text":"CD8","offset":-13,"fontSize":13.5,"dx":-1},"mark":{"type":"bar"},"encoding":{"x":{"field":"group","type":"nominal","title":null,"scale":{"paddingInner":0.33,"paddingOuter":0.4235,"align":0.597},"axis":{"labelAngle":-45,"labelAlign":"right","labelFontSize":13,"labelColor":"#222","domainColor":"#777","domainWidth":1.5,"tickColor":"#777","tickSize":4,"labelPadding":2,"labelOffset":-5}},"y":{"field":"ratio","type":"quantitative","scale":{"domain":[0,6]},"axis":null},"color":{"field":"group","type":"nominal","legend":null,"scale":{"domain":["Control","Patient"],"range":["#2a5ba8","#f1452d"]}}}}
 ]}
 ]},
 {"spacing":0,"vconcat":[{"width":1,"height":73,"data":{"values":[]},"mark":"rect","encoding":{}},
 {"width":81,"height":48,"title":{"text":["Color Key","and Histogram"],"fontSize":11.6,"fontWeight":"bold","color":"#333","offset":5,"lineHeight":13.3},"layer":[
  {"data":{"name":"key"},"mark":{"type":"rect"},"encoding":{"x":{"field":"start","type":"quantitative","scale":{"domain":[0.1,7.33],"nice":false,"zero":false},"title":"Value","axis":{"values":[2,4,6],"labelFontSize":9,"labelFontWeight":"bold","labelColor":"#444","titleFontSize":8.5,"titleColor":"#444","titleFontWeight":"bold","grid":false,"domainColor":"#222","tickColor":"#222","tickSize":4,"labelPadding":4,"titlePadding":6}},"x2":{"field":"end"},"color":{"field":"value","type":"quantitative","legend":null,"scale":{"type":"threshold","domain":[0.35,0.65,0.95,1.25,1.65,2.15,2.65,3.3,3.95,4.45,4.95,5.55,6.4],"range":["#3b55a5","#4354a5","#4c52a5","#5b5aa9","#6a6ab0","#8c8cc4","#b4b4da","#dcdcee","#ffffff","#ffdadd","#ffb0b5","#fb9095","#f5606a","#f22d20"]}}}},
  {"data":{"name":"hist"},"mark":{"type":"line","interpolate":"step-after","color":"#a8d8e8","strokeWidth":1},"encoding":{"x":{"field":"x","type":"quantitative"},"y":{"field":"count","type":"quantitative","scale":{"domain":[0,400],"nice":false},"title":"Count","axis":{"values":[0,100,200,300],"grid":false,"labelExpr":"datum.value==0||datum.value==200?datum.label:''","labelAngle":-90,"labelAlign":"center","labelBaseline":"bottom","labelFontSize":9,"labelFontWeight":"bold","labelColor":"#444","titleFontSize":7,"titleColor":"#444","titleFontWeight":"bold","domainColor":"#222","tickColor":"#222","tickSize":5,"labelPadding":2,"titlePadding":1}}}}
 ]}]}
]},
{"title":{"text":"B","anchor":"start","fontSize":10,"fontWeight":"bold","offset":6,"frame":"group","dx":3},"spacing":2,"hconcat":[
 {"spacing":2,"hconcat":[
 {"spacing":2,"hconcat":[
 {"spacing":0,"hconcat":[{"width":4,"height":1,"data":{"values":[]},"mark":"rect","encoding":{}},
 {"width":144,"height":431,"data":{"name":"baselineControl"},"title":{"text":"Control","fontSize":13.7,"offset":5,"dx":2},"mark":{"type":"rect","strokeWidth":0.4},"encoding":{"x":{"field":"cytokine","type":"nominal","sort":["TNFα","IL-22","IL-6","IFNγ","IL-1β","IL-17A","IL-8"],"title":null,"axis":{"labelAngle":-90,"labelAlign":"left","labelBaseline":"middle","labelPadding":39,"labelFontSize":11.7,"labelColor":"#222","ticks":false,"domain":false}},"y":{"field":"row","type":"ordinal","axis":null},"color":{"field":"value","type":"quantitative","legend":null,"scale":{"type":"threshold","domain":[0.35,0.65,0.95,1.25,1.65,2.15,2.65,3.3,3.95,4.45,4.95,5.55,6.4],"range":["#3b55a5","#4354a5","#4c52a5","#5b5aa9","#6a6ab0","#8c8cc4","#b4b4da","#dcdcee","#ffffff","#ffdadd","#ffb0b5","#fb9095","#f5606a","#f22d20"]}},"stroke":{"field":"value","type":"quantitative","legend":null,"scale":{"type":"threshold","domain":[0.35,0.65,0.95,1.25,1.65,2.15,2.65,3.3,3.95,4.45,4.95,5.55,6.4],"range":["#3b55a5","#4354a5","#4c52a5","#5b5aa9","#6a6ab0","#8c8cc4","#b4b4da","#dcdcee","#ffffff","#ffdadd","#ffb0b5","#fb9095","#f5606a","#f22d20"]}}}}]},
 {"width":144,"height":431,"data":{"name":"baselinePatient"},"title":{"text":"Patient","fontSize":13.7,"offset":5,"dx":7},"mark":{"type":"rect","strokeWidth":0.4},"encoding":{"x":{"field":"cytokine","type":"nominal","sort":["TNFα","IL-22","IL-6","IFNγ","IL-1β","IL-17A","IL-8"],"title":null,"axis":{"labelAngle":-90,"labelAlign":"left","labelBaseline":"middle","labelPadding":39,"labelFontSize":11.7,"labelColor":"#222","ticks":false,"domain":false}},"y":{"field":"row","type":"ordinal","axis":null},"color":{"field":"value","type":"quantitative","legend":null,"scale":{"type":"threshold","domain":[0.35,0.65,0.95,1.25,1.65,2.15,2.65,3.3,3.95,4.45,4.95,5.55,6.4],"range":["#3b55a5","#4354a5","#4c52a5","#5b5aa9","#6a6ab0","#8c8cc4","#b4b4da","#dcdcee","#ffffff","#ffdadd","#ffb0b5","#fb9095","#f5606a","#f22d20"]}},"stroke":{"field":"value","type":"quantitative","legend":null,"scale":{"type":"threshold","domain":[0.35,0.65,0.95,1.25,1.65,2.15,2.65,3.3,3.95,4.45,4.95,5.55,6.4],"range":["#3b55a5","#4354a5","#4c52a5","#5b5aa9","#6a6ab0","#8c8cc4","#b4b4da","#dcdcee","#ffffff","#ffdadd","#ffb0b5","#fb9095","#f5606a","#f22d20"]}}}}]},
 {"width":144,"height":431,"data":{"name":"stimulationControl"},"title":{"text":"Control","fontSize":13.7,"offset":5,"dx":3},"mark":{"type":"rect","strokeWidth":0.4},"encoding":{"x":{"field":"cytokine","type":"nominal","sort":["TNFα","IL-22","IL-6","IFNγ","IL-1β","IL-17A","IL-8"],"title":null,"axis":{"labelAngle":-90,"labelAlign":"left","labelBaseline":"middle","labelPadding":39,"labelFontSize":11.7,"labelColor":"#222","ticks":false,"domain":false}},"y":{"field":"row","type":"ordinal","axis":null},"color":{"field":"value","type":"quantitative","legend":null,"scale":{"type":"threshold","domain":[0.35,0.65,0.95,1.25,1.65,2.15,2.65,3.3,3.95,4.45,4.95,5.55,6.4],"range":["#3b55a5","#4354a5","#4c52a5","#5b5aa9","#6a6ab0","#8c8cc4","#b4b4da","#dcdcee","#ffffff","#ffdadd","#ffb0b5","#fb9095","#f5606a","#f22d20"]}},"stroke":{"field":"value","type":"quantitative","legend":null,"scale":{"type":"threshold","domain":[0.35,0.65,0.95,1.25,1.65,2.15,2.65,3.3,3.95,4.45,4.95,5.55,6.4],"range":["#3b55a5","#4354a5","#4c52a5","#5b5aa9","#6a6ab0","#8c8cc4","#b4b4da","#dcdcee","#ffffff","#ffdadd","#ffb0b5","#fb9095","#f5606a","#f22d20"]}}}}]},
 {"width":144,"height":431,"data":{"name":"stimulationPatient"},"transform":[{"lookup":"row","from":{"data":{"name":"clusters"},"key":"row","fields":["cluster"]}}],"title":{"text":"Patient","fontSize":13.7,"offset":-15},"mark":{"type":"rect","strokeWidth":0.4},"encoding":{"x":{"field":"cytokine","type":"nominal","sort":["TNFα","IL-22","IL-6","IFNγ","IL-1β","IL-17A","IL-8"],"title":null,"axis":{"labelAngle":-90,"labelAlign":"left","labelBaseline":"middle","labelPadding":39,"labelFontSize":11.7,"labelColor":"#222","ticks":false,"domain":false}},"y":{"field":"cluster","type":"nominal","sort":{"field":"row"},"title":"Cluster","axis":{"orient":"right","ticks":false,"domain":false,"labelFontSize":9.2,"labelColor":"#333","labelPadding":4,"titleAngle":0,"titleX":31,"titleY":-13,"titleAlign":"center","titleBaseline":"middle","titleFontSize":13.7,"titleColor":"#222","labelFontWeight":{"condition":{"test":"datum.label=='12. CD4 CM'||datum.label=='13. Tγδ (1)'","value":"bold"},"value":"normal"}}},"color":{"field":"value","type":"quantitative","legend":null,"scale":{"type":"threshold","domain":[0.35,0.65,0.95,1.25,1.65,2.15,2.65,3.3,3.95,4.45,4.95,5.55,6.4],"range":["#3b55a5","#4354a5","#4c52a5","#5b5aa9","#6a6ab0","#8c8cc4","#b4b4da","#dcdcee","#ffffff","#ffdadd","#ffb0b5","#fb9095","#f5606a","#f22d20"]}},"stroke":{"field":"value","type":"quantitative","legend":null,"scale":{"type":"threshold","domain":[0.35,0.65,0.95,1.25,1.65,2.15,2.65,3.3,3.95,4.45,4.95,5.55,6.4],"range":["#3b55a5","#4354a5","#4c52a5","#5b5aa9","#6a6ab0","#8c8cc4","#b4b4da","#dcdcee","#ffffff","#ffdadd","#ffb0b5","#fb9095","#f5606a","#f22d20"]}}}}
]}
]},
{"spacing":16,"hconcat":[
 {"width":288,"height":20,"data":{"values":[{"treatment":"Baseline"}]},"mark":{"type":"text","fontSize":14.3,"color":"#222","dy":6},"encoding":{"x":{"field":"treatment","type":"nominal","title":null,"axis":{"orient":"top","labels":false,"ticks":false,"domainColor":"#222","domainWidth":1}},"text":{"field":"treatment"}}},
 {"width":287,"height":20,"data":{"values":[{"treatment":"Stimulation"}]},"mark":{"type":"text","fontSize":14.3,"color":"#222","dy":6},"encoding":{"x":{"field":"treatment","type":"nominal","title":null,"axis":{"orient":"top","labels":false,"ticks":false,"domainColor":"#222","domainWidth":1}},"text":{"field":"treatment"}}}
]}
]}
